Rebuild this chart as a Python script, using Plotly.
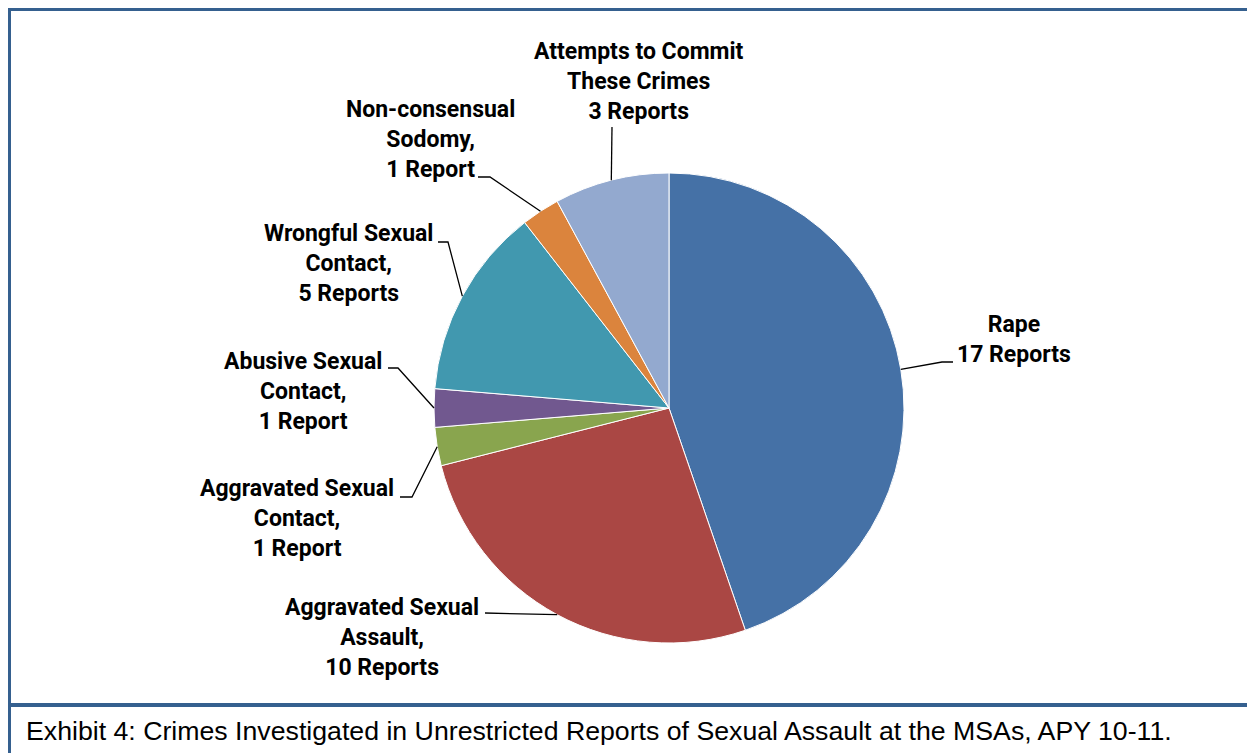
import math
import plotly.graph_objects as go

# ---- data ----
categories = [
    "Rape",
    "Aggravated Sexual Assault",
    "Aggravated Sexual Contact",
    "Abusive Sexual Contact",
    "Wrongful Sexual Contact",
    "Non-consensual Sodomy",
    "Attempts to Commit These Crimes",
]
reports = [17, 10, 1, 1, 5, 1, 3]
label_texts = [
    "Rape<br>17 Reports",
    "Aggravated Sexual<br>Assault,<br>10 Reports",
    "Aggravated Sexual<br>Contact,<br>1 Report",
    "Abusive Sexual<br>Contact,<br>1 Report",
    "Wrongful Sexual<br>Contact,<br>5 Reports",
    "Non-consensual<br>Sodomy,<br>1 Report",
    "Attempts to Commit<br>These Crimes<br>3 Reports",
]
colors = ["#4571A6", "#AA4744", "#89A54E", "#71588F", "#4198AF", "#DB843D", "#93A9CF"]
caption = "Exhibit 4: Crimes Investigated in Unrestricted Reports of Sexual Assault at the MSAs, APY 10-11."

# ---- layout (screen pixels; page body has an 8px margin) ----
OFF = 8
W, H = 1255, 753
CX, CY, R = 669, 408, 235
label_pos = [(1014, 339), (382, 637), (297, 519), (303, 391), (348, 264), (430, 139), (639, 81)]
elbows = [
    [(942, 362), (953, 362)],
    [(485, 613)],
    [(412, 497), (400, 497)],
    [(398, 368), (388, 368)],
    [(448, 242), (438, 242)],
    [(490, 177), (478, 177)],
    [(612, 127)],
]

BORDER = "#35608F"
LABEL_FONT = "Roboto, Liberation Sans, Arial, sans-serif"


def px(x):
    return (x - OFF) / W


def py(y):
    return 1 - (y - OFF) / H


fig = go.Figure(
    go.Pie(
        labels=categories,
        values=reports,
        sort=False,
        direction="clockwise",
        rotation=0,
        marker=dict(colors=colors, line=dict(color="white", width=1)),
        textinfo="none",
        hoverinfo="label+value",
        showlegend=False,
        domain=dict(x=[px(CX - R), px(CX + R)], y=[py(CY + R), py(CY - R)]),
    )
)

shapes = []
annotations = []
total = sum(reports)
cum = 0
for i, v in enumerate(reports):
    mid = (cum + v / 2) / total * 2 * math.pi
    cum += v
    sx = CX + R * math.sin(mid)
    sy = CY - R * math.cos(mid)
    pts = [(sx, sy)] + elbows[i]
    path = "M " + " L ".join(f"{px(x)},{py(y)}" for x, y in pts)
    shapes.append(dict(type="path", xref="paper", yref="paper", path=path,
                       line=dict(color="black", width=1.3)))
    lx, ly = label_pos[i]
    annotations.append(dict(
        x=px(lx), y=py(ly), xref="paper", yref="paper", text=label_texts[i],
        showarrow=False, align="center", xanchor="center", yanchor="middle",
        font=dict(family=LABEL_FONT, size=23, color="black", weight="bold"),
    ))

# frame: top, left and caption separator lines (right/bottom edges lie outside the picture)
frame_lines = [
    (7, 9, W + 40, 9),
    (9, 7, 9, H + 40),
    (7, 705, W + 40, 705),
]
for x0, y0, x1, y1 in frame_lines:
    shapes.append(dict(type="line", xref="paper", yref="paper",
                       x0=px(x0), y0=py(y0), x1=px(x1), y1=py(y1),
                       line=dict(color=BORDER, width=4)))

annotations.append(dict(
    x=px(24), y=py(731), xref="paper", yref="paper", text=caption,
    showarrow=False, xanchor="left", yanchor="middle",
    font=dict(family="Liberation Sans, Arial, sans-serif", size=26.7, color="black"),
))

fig.update_layout(
    width=W, height=H,
    margin=dict(l=0, r=0, t=0, b=0),
    paper_bgcolor="white", plot_bgcolor="white",
    shapes=shapes, annotations=annotations,
)

fig.write_html("out.html")
